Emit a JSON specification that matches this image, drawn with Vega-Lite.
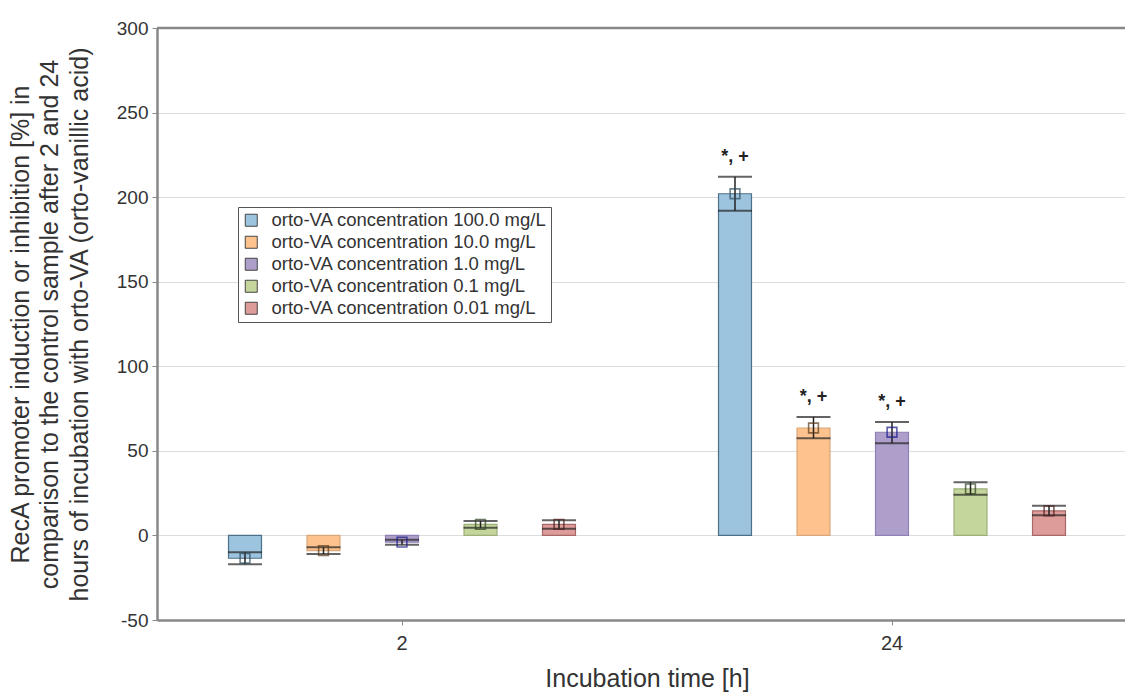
{
  "$schema": "https://vega.github.io/schema/vega-lite/v6.json",
  "autosize": {"type": "none"},
  "padding": {"left": 157, "top": 28, "right": 0, "bottom": 72},
  "width": 968,
  "height": 592,
  "background": "white",
  "config": {
    "font": "Liberation Sans",
    "view": {"stroke": null},
    "axis": {"labelFont": "Liberation Sans", "titleFont": "Liberation Sans", "labelColor": "#333", "titleColor": "#333", "titleFontWeight": "normal"}
  },
  "layer": [
    {
      "data": {
        "values": [
          {"time": "2", "conc": "orto-VA concentration 100.0 mg/L", "mean": -13.5, "lo": -17, "hi": -10, "sig": ""},
          {"time": "2", "conc": "orto-VA concentration 10.0 mg/L", "mean": -9, "lo": -11, "hi": -7, "sig": ""},
          {"time": "2", "conc": "orto-VA concentration 1.0 mg/L", "mean": -4, "lo": -5.5, "hi": -2.5, "sig": ""},
          {"time": "2", "conc": "orto-VA concentration 0.1 mg/L", "mean": 6.5, "lo": 4.5, "hi": 8.5, "sig": ""},
          {"time": "2", "conc": "orto-VA concentration 0.01 mg/L", "mean": 6.5, "lo": 4, "hi": 9, "sig": ""},
          {"time": "24", "conc": "orto-VA concentration 100.0 mg/L", "mean": 202, "lo": 192, "hi": 212, "sig": "*, +"},
          {"time": "24", "conc": "orto-VA concentration 10.0 mg/L", "mean": 63.5, "lo": 57.5, "hi": 70, "sig": "*, +"},
          {"time": "24", "conc": "orto-VA concentration 1.0 mg/L", "mean": 61, "lo": 54.5, "hi": 67, "sig": "*, +"},
          {"time": "24", "conc": "orto-VA concentration 0.1 mg/L", "mean": 27.5, "lo": 24, "hi": 31.5, "sig": ""},
          {"time": "24", "conc": "orto-VA concentration 0.01 mg/L", "mean": 14.5, "lo": 12, "hi": 17.5, "sig": ""}
        ]
      },
      "encoding": {
        "x": {
          "field": "time", "type": "nominal", "sort": ["2", "24"],
          "scale": {"range": [0, 980], "paddingInner": 0, "paddingOuter": 0},
          "axis": {
            "title": "Incubation time [h]", "titleFontSize": 25, "titlePadding": 13,
            "labelAngle": 0, "labelFontSize": 20, "labelPadding": 8,
            "domainColor": "#888", "domainWidth": 2.5, "tickColor": "#888", "tickSize": 5, "tickWidth": 1
          }
        },
        "xOffset": {
          "field": "conc", "type": "nominal",
          "sort": ["orto-VA concentration 100.0 mg/L", "orto-VA concentration 10.0 mg/L", "orto-VA concentration 1.0 mg/L", "orto-VA concentration 0.1 mg/L", "orto-VA concentration 0.01 mg/L"],
          "scale": {"paddingInner": 0.58, "paddingOuter": 0.911}
        }
      },
      "layer": [
        {
          "mark": {"type": "bar", "strokeWidth": 1.2},
          "encoding": {
            "y": {
              "field": "mean", "type": "quantitative",
              "scale": {"domain": [-50, 300], "nice": false, "zero": false},
              "axis": {
                "values": [-50, 0, 50, 100, 150, 200, 250, 300],
                "labelExpr": "replace(datum.label, '−', '-')",
                "title": ["RecA promoter induction or inhibition [%] in", "comparison to the control sample after 2 and 24", "hours of incubation with orto-VA (orto-vanillic acid)"],
                "titleFontSize": 25, "titleLineHeight": 29.5, "titlePadding": 24,
                "labelFontSize": 19, "labelPadding": 4,
                "grid": true, "gridColor": "#dcdcdc", "gridWidth": 1,
                "domainColor": "#888", "domainWidth": 2.5, "tickColor": "#888", "tickSize": 5
              }
            },
            "y2": {"datum": 0},
            "fill": {
              "field": "conc", "type": "nominal",
              "scale": {
                "domain": ["orto-VA concentration 100.0 mg/L", "orto-VA concentration 10.0 mg/L", "orto-VA concentration 1.0 mg/L", "orto-VA concentration 0.1 mg/L", "orto-VA concentration 0.01 mg/L"],
                "range": ["#9dc4de", "#fdc28d", "#ae9fca", "#c5d69c", "#dd9c9a"]
              },
              "legend": {
                "title": null, "orient": "none", "legendX": 81, "legendY": 179,
                "strokeColor": "#555", "padding": 4, "fillColor": "white",
                "labelFontSize": 18.5, "labelColor": "#333", "labelFont": "Liberation Sans", "labelLimit": 400, "labelOffset": 11,
                "symbolType": "square", "symbolSize": 144, "symbolStrokeColor": "#444", "symbolStrokeWidth": 1, "symbolOpacity": 1,
                "rowPadding": 3
              }
            },
            "stroke": {
              "field": "conc", "type": "nominal",
              "scale": {
                "domain": ["orto-VA concentration 100.0 mg/L", "orto-VA concentration 10.0 mg/L", "orto-VA concentration 1.0 mg/L", "orto-VA concentration 0.1 mg/L", "orto-VA concentration 0.01 mg/L"],
                "range": ["#4d7088", "#d9a77a", "#9080b8", "#9db07a", "#a86868"]
              },
              "legend": null
            }
          }
        },
        {
          "mark": {"type": "rule", "color": "#222", "strokeWidth": 1.5},
          "encoding": {
            "y": {"field": "lo", "type": "quantitative"},
            "y2": {"field": "hi"}
          }
        },
        {
          "mark": {"type": "tick", "color": "#222", "thickness": 2, "size": 34, "orient": "horizontal"},
          "encoding": {"y": {"field": "lo", "type": "quantitative"}}
        },
        {
          "mark": {"type": "tick", "color": "#222", "thickness": 2, "size": 34, "orient": "horizontal"},
          "encoding": {"y": {"field": "hi", "type": "quantitative"}}
        },
        {
          "mark": {"type": "point", "shape": "square", "filled": false, "size": 95, "strokeWidth": 1.6},
          "encoding": {
            "y": {"field": "mean", "type": "quantitative"},
            "stroke": {
              "field": "conc", "type": "nominal",
              "scale": {
                "domain": ["orto-VA concentration 100.0 mg/L", "orto-VA concentration 10.0 mg/L", "orto-VA concentration 1.0 mg/L", "orto-VA concentration 0.1 mg/L", "orto-VA concentration 0.01 mg/L"],
                "range": ["#2f4f5f", "#5a3a1a", "#1a1a8a", "#2d4020", "#4a1a1a"]
              },
              "legend": null
            }
          }
        },
        {
          "mark": {"type": "text", "fontSize": 18, "fontWeight": "bold", "color": "#222", "dy": -20, "baseline": "middle"},
          "encoding": {
            "y": {"field": "hi", "type": "quantitative"},
            "text": {"field": "sig"}
          }
        }
      ],
      "resolve": {"scale": {"stroke": "independent"}}
    },
    {
      "data": {"values": [{"top": 300}]},
      "mark": {"type": "rule", "color": "#888", "strokeWidth": 2.5},
      "encoding": {"y": {"field": "top", "type": "quantitative"}}
    }
  ]
}
